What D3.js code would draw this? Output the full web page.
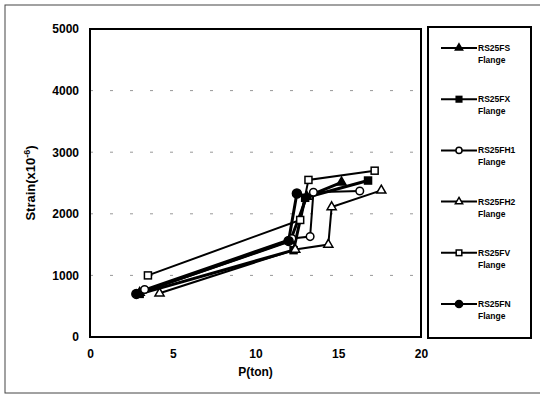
<!DOCTYPE html>
<html>
<head>
<meta charset="utf-8">
<script src="https://cdn.jsdelivr.net/npm/d3@7"></script>
<style>
  body { margin: 0; background: #fff; }
  text { font-family: "Liberation Sans", Arial, sans-serif; }
</style>
</head>
<body>
<div id="chart"></div>
<script>
// Chart values
const seriesNames = ["RS25FS", "RS25FX", "RS25FH1", "RS25FH2", "RS25FV", "RS25FN"];
const markerTypes = ["triangleFilled", "squareFilled", "circleOpen", "triangleOpen", "squareOpen", "circleFilled"];
const fsLoad = [3.0, 12.1, 13.1, 15.2];
const fsStrain = [720, 1560, 2280, 2510];
const fxLoad = [3.0, 12.3, 13.0, 16.8];
const fxStrain = [700, 1410, 2260, 2540];
const fh1Load = [3.3, 12.2, 13.3, 13.5, 16.3];
const fh1Strain = [770, 1600, 1630, 2350, 2370];
const fh2Load = [4.2, 12.4, 14.4, 14.6, 17.6];
const fh2Strain = [710, 1420, 1500, 2110, 2380];
const fvLoad = [3.5, 12.7, 13.2, 17.2];
const fvStrain = [1000, 1900, 2550, 2700];
const fnLoad = [2.8, 12.0, 12.5];
const fnStrain = [700, 1560, 2330];
const xTicks = [0, 5, 10, 15, 20];
const yTicks = [0, 1000, 2000, 3000, 4000, 5000];

const loads = [fsLoad, fxLoad, fh1Load, fh2Load, fvLoad, fnLoad];
const strains = [fsStrain, fxStrain, fh1Strain, fh2Strain, fvStrain, fnStrain];
const series = seriesNames.map((name, i) => ({
    name: name,
    marker: markerTypes[i],
    points: loads[i].map((p, j) => ({ p: p, s: strains[i][j] }))
}));

const width = 540;
const height = 395;
const plot = { left: 90, top: 29, right: 421, bottom: 337 };

const svg = d3.select("#chart").append("svg")
    .attr("width", width)
    .attr("height", height);

// outer frame of the figure
svg.append("rect")
    .attr("x", 5).attr("y", 5)
    .attr("width", 540).attr("height", 388)
    .attr("fill", "none")
    .attr("stroke", "#444")
    .attr("stroke-width", 1);

const x = d3.scaleLinear().domain([0, 20]).range([plot.left, plot.right]);
const y = d3.scaleLinear().domain([0, 5000]).range([plot.bottom, plot.top]);

// dashed grid lines
svg.append("g")
    .selectAll("line")
    .data(yTicks.filter(t => t > 0 && t < 5000))
    .enter().append("line")
    .attr("x1", plot.left).attr("x2", plot.right)
    .attr("y1", d => y(d)).attr("y2", d => y(d))
    .attr("stroke", "#999")
    .attr("stroke-width", 1)
    .attr("stroke-dasharray", "3,17");

// plot border
svg.append("rect")
    .attr("x", plot.left).attr("y", plot.top)
    .attr("width", plot.right - plot.left)
    .attr("height", plot.bottom - plot.top)
    .attr("fill", "none")
    .attr("stroke", "#000")
    .attr("stroke-width", 2);

// axes (labels only, the border acts as axis line)
const xAxis = svg.append("g")
    .attr("transform", `translate(0,${plot.bottom})`)
    .call(d3.axisBottom(x).tickValues(xTicks).tickSize(0).tickPadding(12));
xAxis.select(".domain").remove();
xAxis.selectAll("text")
    .attr("font-size", 12).attr("font-weight", "bold")
    .attr("font-family", "Liberation Sans, Arial, sans-serif")
    .attr("fill", "#000");

const yAxis = svg.append("g")
    .attr("transform", `translate(${plot.left},0)`)
    .call(d3.axisLeft(y).tickValues(yTicks).tickFormat(d3.format("d")).tickSize(0).tickPadding(11));
yAxis.select(".domain").remove();
yAxis.selectAll("text")
    .attr("font-size", 12).attr("font-weight", "bold")
    .attr("font-family", "Liberation Sans, Arial, sans-serif")
    .attr("fill", "#000");

svg.append("text")
    .attr("x", (plot.left + plot.right) / 2)
    .attr("y", 376)
    .attr("text-anchor", "middle")
    .attr("font-size", 12).attr("font-weight", "bold")
    .text("P(ton)");

const yTitle = svg.append("text")
    .attr("transform", `translate(35,${(plot.top + plot.bottom) / 2}) rotate(-90)`)
    .attr("text-anchor", "middle")
    .attr("font-size", 13).attr("font-weight", "bold");
yTitle.append("tspan").text("Strain(x10");
yTitle.append("tspan").attr("font-size", 9).attr("dy", -5).text("-6");
yTitle.append("tspan").attr("dy", 5).text(")");

// marker drawing helper
function drawMarker(g, type, cx, cy, k) {
    const filled = type.endsWith("Filled");
    const fill = filled ? "#000" : "#fff";
    if (type.startsWith("triangle")) {
        g.append("path")
            .attr("d", d3.symbol().type(d3.symbolTriangle).size(36 * k * k)())
            .attr("transform", `translate(${cx},${cy})`)
            .attr("fill", fill).attr("stroke", "#000").attr("stroke-width", 1.5);
    } else if (type.startsWith("square")) {
        const s = 7 * k;
        g.append("rect")
            .attr("x", cx - s / 2).attr("y", cy - s / 2)
            .attr("width", s).attr("height", s)
            .attr("fill", fill).attr("stroke", "#000").attr("stroke-width", 1.5);
    } else {
        g.append("circle")
            .attr("cx", cx).attr("cy", cy)
            .attr("r", (filled ? 4.5 : 3.8) * k)
            .attr("fill", fill).attr("stroke", "#000").attr("stroke-width", 1.5);
    }
}

const line = d3.line().x(d => x(d.p)).y(d => y(d.s));

const seriesGroup = svg.append("g");
series.forEach(sr => {
    const thick = sr.marker.endsWith("Filled");
    seriesGroup.append("path")
        .datum(sr.points)
        .attr("d", line)
        .attr("fill", "none")
        .attr("stroke", "#000")
        .attr("stroke-width", thick ? 3 : 2);
});
series.forEach(sr => {
    const g = seriesGroup.append("g");
    sr.points.forEach(pt => drawMarker(g, sr.marker, x(pt.p), y(pt.s), 1));
});

// legend
const legend = svg.append("g");
legend.append("rect")
    .attr("x", 428).attr("y", 27)
    .attr("width", 103).attr("height", 311)
    .attr("fill", "#fff")
    .attr("stroke", "#000")
    .attr("stroke-width", 2);

const legendY = d3.scalePoint().domain(seriesNames).range([48, 304]);
series.forEach(sr => {
    const ly = legendY(sr.name);
    legend.append("line")
        .attr("x1", 441).attr("x2", 477)
        .attr("y1", ly).attr("y2", ly)
        .attr("stroke", "#000")
        .attr("stroke-width", 2);
    drawMarker(legend, sr.marker, 459, ly, 0.8);
    legend.append("text")
        .attr("x", 478).attr("y", ly + 3)
        .attr("font-size", 8.5).attr("font-weight", "bold")
        .text(sr.name);
    legend.append("text")
        .attr("x", 478).attr("y", ly + 15)
        .attr("font-size", 8.5).attr("font-weight", "bold")
        .text("Flange");
});
</script>
</body>
</html>
